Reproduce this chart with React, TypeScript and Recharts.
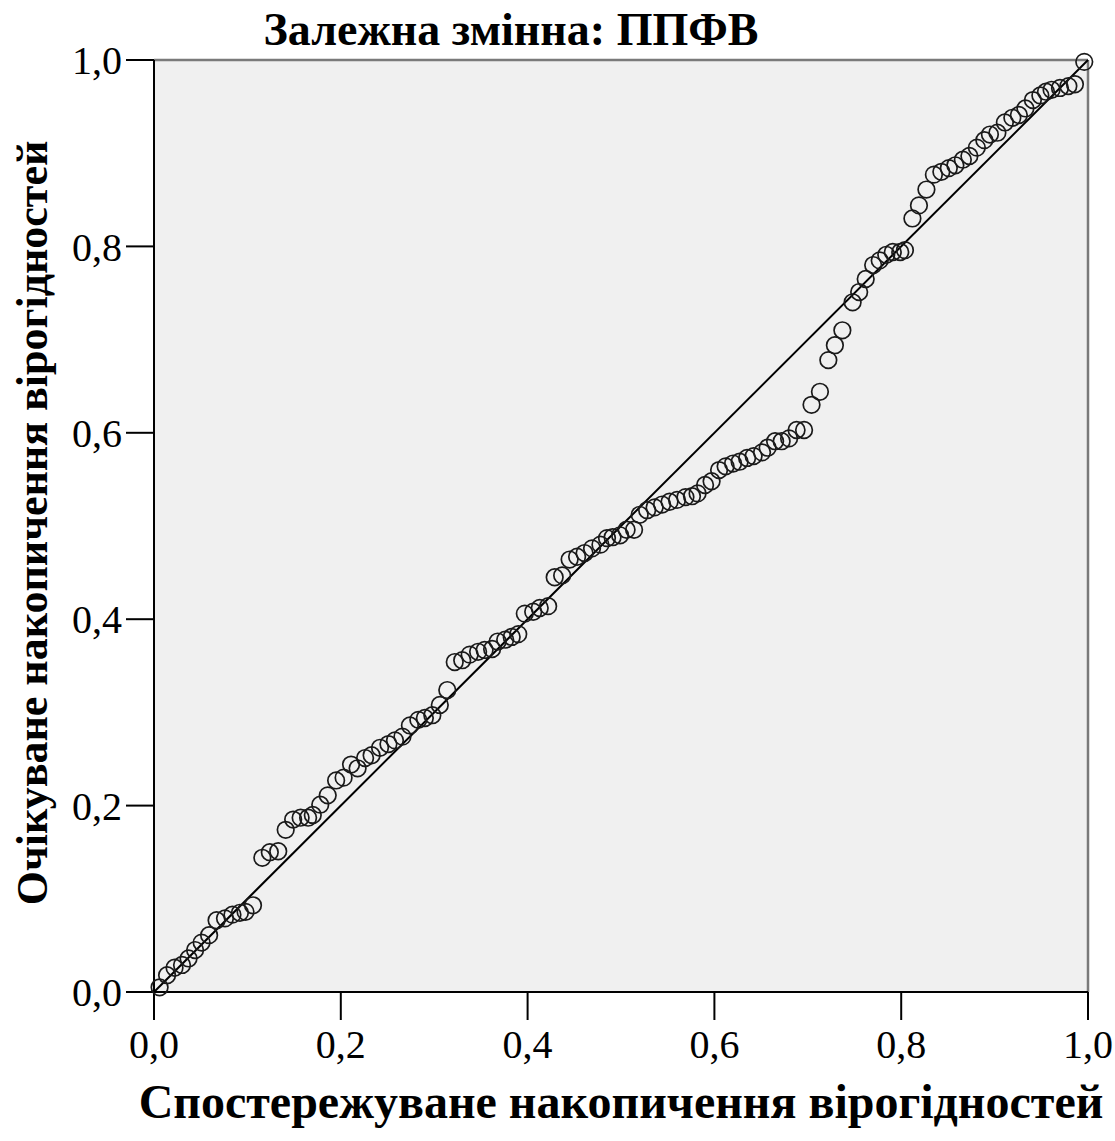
import {
  ReferenceLine,
  Scatter,
  ScatterChart,
  XAxis,
  YAxis,
  CartesianGrid,
} from "recharts";

// P-P графік: спостережувана (x) та очікувана (y) накопичена ймовірність
const observed = [
  0.006, 0.014, 0.022, 0.03, 0.037, 0.044, 0.051, 0.059, 0.067, 0.076, 0.084, 0.092,
  0.098, 0.106, 0.116, 0.124, 0.133, 0.141, 0.149, 0.157, 0.165, 0.17, 0.178, 0.186,
  0.195, 0.203, 0.211, 0.218, 0.226, 0.233, 0.242, 0.251, 0.258, 0.266, 0.274, 0.283,
  0.29, 0.298, 0.306, 0.314, 0.322, 0.33, 0.338, 0.347, 0.354, 0.362, 0.368, 0.376,
  0.383, 0.39, 0.397, 0.406, 0.413, 0.422, 0.429, 0.437, 0.445, 0.453, 0.461, 0.469,
  0.478, 0.485, 0.491, 0.499, 0.506, 0.514, 0.52, 0.528, 0.536, 0.544, 0.552, 0.56,
  0.569, 0.576, 0.582, 0.59, 0.597, 0.605, 0.612, 0.62, 0.627, 0.635, 0.642, 0.651,
  0.657, 0.665, 0.672, 0.68, 0.688, 0.696, 0.704, 0.713, 0.722, 0.729, 0.737, 0.748,
  0.755, 0.762, 0.77, 0.777, 0.784, 0.791, 0.799, 0.804, 0.812, 0.819, 0.827, 0.835,
  0.843, 0.851, 0.858, 0.866, 0.873, 0.881, 0.889, 0.895, 0.903, 0.911, 0.919, 0.926,
  0.933, 0.941, 0.949, 0.955, 0.961, 0.97, 0.979, 0.986, 0.996,
];
const expected = [
  0.005, 0.018, 0.026, 0.029, 0.036, 0.045, 0.053, 0.061, 0.077, 0.079, 0.083, 0.085,
  0.086, 0.093, 0.144, 0.15, 0.151, 0.174, 0.185, 0.187, 0.187, 0.19, 0.201, 0.211,
  0.227, 0.23, 0.244, 0.24, 0.251, 0.254, 0.262, 0.266, 0.27, 0.274, 0.286, 0.292,
  0.294, 0.297, 0.308, 0.324, 0.354, 0.356, 0.362, 0.365, 0.367, 0.368, 0.376, 0.378,
  0.381, 0.384, 0.406, 0.408, 0.412, 0.414, 0.445, 0.447, 0.464, 0.467, 0.471, 0.476,
  0.48, 0.487, 0.488, 0.49, 0.496, 0.496, 0.512, 0.517, 0.52, 0.523, 0.526, 0.528,
  0.531, 0.532, 0.535, 0.544, 0.548, 0.56, 0.564, 0.567, 0.569, 0.573, 0.575, 0.579,
  0.584, 0.591, 0.591, 0.594, 0.603, 0.603, 0.63, 0.644, 0.678, 0.694, 0.71, 0.74,
  0.751, 0.765, 0.78, 0.785, 0.791, 0.794, 0.794, 0.796, 0.83, 0.844, 0.861, 0.877,
  0.88, 0.884, 0.887, 0.893, 0.897, 0.906, 0.914, 0.92, 0.922, 0.933, 0.938, 0.941,
  0.948, 0.957, 0.962, 0.966, 0.968, 0.97, 0.972, 0.974, 0.998,
];
const ticks = [0, 0.2, 0.4, 0.6, 0.8, 1];

const title = "Залежна змінна: ППФВ";
const xTitle = "Спостережуване накопичення вірогідностей";
const yTitle = "Очікуване накопичення вірогідностей";

const FONT = "'Liberation Serif', 'Times New Roman', serif";
const fmt = (v: number) => v.toFixed(1).replace(".", ",");

const data = observed.map((x, i) => ({ x, y: expected[i] }));

const Ring = (p: any) => (
  <circle cx={p.cx} cy={p.cy} r={8.3} fill="none" stroke="#1a1a1a" strokeWidth={1.7} />
);

const XTitle = () => (
  <text x={621} y={1118} textAnchor="middle" fontFamily={FONT} fontWeight="bold" fontSize={48} fill="#000">
    {xTitle}
  </text>
);

const YTitle = () => (
  <text
    x={0}
    y={0}
    transform="translate(47,523) rotate(-90)"
    textAnchor="middle"
    fontFamily={FONT}
    fontWeight="bold"
    fontSize={44}
    fill="#000"
  >
    {yTitle}
  </text>
);

export default function App() {
  return (
    <div style={{ position: "absolute", left: 0, top: 0, width: 1115, height: 1141, background: "#fff" }}>
      <div
        style={{
          position: "absolute",
          left: 0,
          width: 1022,
          top: 7,
          textAlign: "center",
          fontFamily: FONT,
          fontWeight: "bold",
          fontSize: 46,
          lineHeight: "46px",
          whiteSpace: "nowrap",
        }}
      >
        {title}
      </div>
      <ScatterChart width={1115} height={1141} margin={{ top: 60, right: 27, bottom: 0, left: 0 }}>
        <CartesianGrid horizontal={false} vertical={false} fill="#f0f0f0" />
        <XAxis
          type="number"
          dataKey="x"
          domain={[0, 1]}
          ticks={ticks}
          tickFormatter={fmt}
          height={149}
          tickSize={28}
          tickMargin={10}
          stroke="#000"
          strokeWidth={2}
          tick={{ fill: "#000", fontFamily: FONT, fontSize: 40 }}
          label={<XTitle />}
        />
        <YAxis
          type="number"
          dataKey="y"
          domain={[0, 1]}
          ticks={ticks}
          tickFormatter={fmt}
          width={154}
          tickSize={28}
          tickMargin={4}
          stroke="#000"
          strokeWidth={2}
          tick={{ fill: "#000", fontFamily: FONT, fontSize: 40 }}
          label={<YTitle />}
        />
        <ReferenceLine y={1} stroke="#7a7a7a" strokeWidth={2.5} />
        <ReferenceLine x={1} stroke="#7a7a7a" strokeWidth={2.5} />
        <ReferenceLine
          segment={[
            { x: 0, y: 0 },
            { x: 1, y: 1 },
          ]}
          stroke="#000"
          strokeWidth={2}
        />
        <Scatter data={data} shape={Ring} isAnimationActive={false} />
      </ScatterChart>
    </div>
  );
}
